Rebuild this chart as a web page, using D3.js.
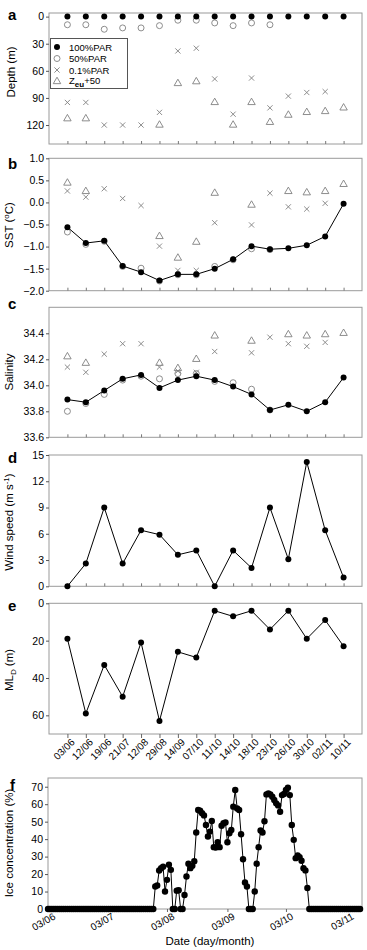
<!DOCTYPE html>
<html><head><meta charset="utf-8">
<script src="https://cdn.jsdelivr.net/npm/d3@7"></script>
<style>
body{margin:0;background:#fff;}
svg{display:block;font-family:"Liberation Sans",Arial,sans-serif;}
</style></head><body>
<svg id="c" width="367" height="950"></svg>
<script>
// ---------- DATA ----------
const stations = ["03/06","12/06","19/06","21/07","12/08","29/08","14/09","07/10","11/10","14/10","18/10","23/10","26/10","30/10","02/11","10/11"];
// a: depth (m)
const depth100 = [0,0,0,0,0,0,0,0,0,0,0,0,0,0,0,0];
const depth50  = [9,9,14,12.5,12.5,10,4,4,7,10,7,9,null,null,null,null];
const depth01  = [95,95,120,120,120,106,38,35,69,108,68,101,88,84,83,null];
const depthZeu = [113,113,null,null,null,120,74,72,95,120,95,117,109,106,105,101];
// b: SST
const sst100 = [-0.56,-0.92,-0.87,-1.44,-1.58,-1.77,-1.63,-1.63,-1.50,-1.29,-0.99,-1.06,-1.04,-0.97,-0.77,-0.03];
const sst50  = [-0.67,-0.95,-0.88,-1.45,-1.49,-1.78,-1.64,-1.64,-1.45,-1.30,-1.05,-1.07,null,null,null,null];
const sst01  = [0.26,0.12,0.31,0.09,-0.07,-0.99,-1.54,-1.54,-0.46,null,-0.51,0.21,-0.10,-0.15,-0.02,null];
const sstZeu = [0.44,0.25,null,null,null,-0.77,-1.26,-0.90,0.21,null,-0.06,null,0.25,0.22,0.25,0.41];
// c: salinity
const sal100 = [33.89,33.87,33.96,34.05,34.08,33.98,34.04,34.07,34.04,33.99,33.93,33.81,33.85,33.80,33.87,34.06];
const sal50  = [33.80,33.86,33.93,34.04,34.07,34.05,34.09,34.09,34.03,34.02,33.97,33.81,null,null,null,null];
const sal01  = [34.14,34.10,34.24,34.32,34.32,34.14,34.11,34.10,34.26,null,34.25,34.37,34.32,34.30,34.33,null];
const salZeu = [34.22,34.17,null,null,null,34.17,34.13,34.20,34.38,null,34.34,null,34.39,34.38,34.39,34.40];
// d: wind speed
const wind = [0,2.6,9.0,2.6,6.4,5.9,3.6,4.1,0,4.1,2.1,9.0,3.1,14.2,6.4,1.0];
// e: mixed layer depth
const mld = [19,59,33,50,21,63,26,29,4,7,4,14,4,19,9,23];
// f: daily ice concentration (%) from 03/06
const iceStart = "2012-06-03";
const iceEnd = "2012-11-11";
const iceConc = [
0,0,0,0,0,0,0,0,0,0,0,0,0,0,0,0,0,0,0,0,0,0,0,0,0,0,0,0,0,0,
0,0,0,0,0,0,0,0,0,0,0,0,0,0,0,0,0,0,0,0,0,0,0,0,0,
12.9,13.5,22,23.4,24.2,10,16.7,25.3,22.4,0,0,10.5,10.7,0,0,8,18.6,25.9,23.4,24.7,
27.4,43.8,56.7,56.3,54.8,53.6,48.1,41.5,44.3,50.4,35.4,35.2,38.2,35.4,47.7,49.1,49.5,38.2,43.4,45.3,
58.6,68.1,57.6,56.7,42.8,28.5,15.2,12.9,0,0,0,10,25.9,35.4,44.9,43.8,50.2,65.6,66.2,65.6,
64.3,62.4,60.5,59.3,55.7,65.2,65.8,68.1,69.4,65.2,48.1,39.6,29.1,30.6,29.7,27.6,23.4,22.1,12,
0,0,0,0,0,0,0,0,0,0,0,0,0,0,0,0,0,0,0,0,0,0,0,0,0,0,0
];
const iceTickLabels = ["03/06","03/07","03/08","03/09","03/10","03/11"];
const legendLabels = ["100%PAR","50%PAR","0.1%PAR","Zeu+50"];

// ---------- DRAW ----------
const svg = d3.select("#c");
const GREY = "#808080";
const FRAME = "#9a9a9a";
const x = d3.scalePoint().domain(stations).range([49, 362]).padding(1);

function frame(x0, x1, y0, y1) {
  svg.append("rect").attr("x", x0).attr("y", y0).attr("width", x1 - x0).attr("height", y1 - y0)
    .attr("fill", "none").attr("stroke", FRAME).attr("stroke-width", 1);
}
function yAxis(scale, ticks, fmt, xpos) {
  const g = svg.append("g").attr("transform", `translate(${xpos},0)`)
    .call(d3.axisLeft(scale).tickValues(ticks).tickFormat(fmt).tickSize(3).tickPadding(2));
  g.select(".domain").remove();
  g.selectAll(".tick line").attr("stroke", "#555");
  g.selectAll("text").attr("font-size", 10.5).attr("fill", "#000")
    .attr("font-family", "Liberation Sans, Arial, sans-serif");
  return g;
}
function xTicksInside(ybottom) {
  const g = svg.append("g").attr("transform", `translate(0,${ybottom})`)
    .call(d3.axisBottom(x).tickSize(-3).tickFormat(""));
  g.select(".domain").remove();
  g.selectAll(".tick line").attr("stroke", "#777");
}
function letter(t, xx, yy) {
  svg.append("text").attr("x", xx).attr("y", yy).text(t)
    .attr("font-size", 15).attr("font-weight", "bold");
}
function ytitle(cx, cy) {
  return svg.append("text").attr("transform", `translate(${cx},${cy}) rotate(-90)`)
    .attr("text-anchor", "middle").attr("font-size", 11.5);
}
function filled(vals, ys, r) {
  svg.append("g").selectAll("circle").data(vals.map((v, i) => [stations[i], v]).filter(d => d[1] != null))
    .join("circle").attr("cx", d => x(d[0])).attr("cy", d => ys(d[1])).attr("r", r || 3).attr("fill", "#000");
}
function openC(vals, ys) {
  svg.append("g").selectAll("circle").data(vals.map((v, i) => [stations[i], v]).filter(d => d[1] != null))
    .join("circle").attr("cx", d => x(d[0])).attr("cy", d => ys(d[1])).attr("r", 3)
    .attr("fill", "none").attr("stroke", GREY).attr("stroke-width", 0.9);
}
function crosses(vals, ys) {
  const s = 2.6;
  svg.append("g").selectAll("path").data(vals.map((v, i) => [stations[i], v]).filter(d => d[1] != null))
    .join("path").attr("d", d => {
      const cx = x(d[0]), cy = ys(d[1]);
      return `M${cx - s},${cy - s}L${cx + s},${cy + s}M${cx - s},${cy + s}L${cx + s},${cy - s}`;
    }).attr("stroke", GREY).attr("stroke-width", 0.9).attr("fill", "none");
}
const tri = d3.symbol().type(d3.symbolTriangle).size(24);
function triangles(vals, ys) {
  svg.append("g").selectAll("path").data(vals.map((v, i) => [stations[i], v]).filter(d => d[1] != null))
    .join("path").attr("d", tri).attr("transform", d => `translate(${x(d[0])},${ys(d[1])})`)
    .attr("fill", "none").attr("stroke", GREY).attr("stroke-width", 0.9);
}
function line(vals, ys) {
  svg.append("path").datum(vals.map((v, i) => [stations[i], v]))
    .attr("d", d3.line().x(d => x(d[0])).y(d => ys(d[1])))
    .attr("fill", "none").attr("stroke", "#000").attr("stroke-width", 1);
}

// ----- Panel a -----
const yA = d3.scaleLinear().domain([-4, 141]).range([13, 144]);
frame(49, 362, 13, 144);
xTicksInside(144);
yAxis(yA, [0, 30, 60, 90, 120], d3.format("d"), 49);
ytitle(15, 72).text("Depth (m)");
letter("a", 8, 20);
triangles(depthZeu, yA);
crosses(depth01, yA);
openC(depth50, yA);
filled(depth100, yA);
// legend
const lg = svg.append("g");
lg.append("rect").attr("x", 50.5).attr("y", 38.5).attr("width", 77).attr("height", 50)
  .attr("fill", "#fff").attr("stroke", "#555").attr("stroke-width", 1);
const ly = [47, 58.5, 70, 81.5];
lg.append("circle").attr("cx", 57).attr("cy", ly[0]).attr("r", 3).attr("fill", "#000");
lg.append("circle").attr("cx", 57).attr("cy", ly[1]).attr("r", 3).attr("fill", "none").attr("stroke", GREY).attr("stroke-width", 0.9);
lg.append("path").attr("d", `M54.4,${ly[2]-2.6}L59.6,${ly[2]+2.6}M54.4,${ly[2]+2.6}L59.6,${ly[2]-2.6}`).attr("stroke", GREY).attr("stroke-width", 0.9);
lg.append("path").attr("d", tri).attr("transform", `translate(57,${ly[3]})`).attr("fill", "none").attr("stroke", GREY).attr("stroke-width", 0.9);
legendLabels.slice(0, 3).forEach((t, i) => {
  lg.append("text").attr("x", 69).attr("y", ly[i] + 3.5).attr("font-size", 9.5).text(t);
});
const zt = lg.append("text").attr("x", 69).attr("y", ly[3] + 2.5).attr("font-size", 9.5);
zt.append("tspan").text("Z");
zt.append("tspan").attr("font-size", 8).attr("font-weight", "bold").attr("dy", 2.5).text("eu");
zt.append("tspan").attr("dy", -2.5).text("+50");

// ----- Panel b -----
const yB = d3.scaleLinear().domain([-2, 1]).range([290.7, 158.3]);
frame(49, 362, 158.3, 290.7);
xTicksInside(290.7);
yAxis(yB, [-2, -1.5, -1, -0.5, 0, 0.5, 1], d3.format(".1f"), 49);
const tb = ytitle(13, 225);
tb.append("tspan").text("SST (");
tb.append("tspan").attr("font-size", 8).attr("dy", -4).text("o");
tb.append("tspan").attr("dy", 4).text("C)");
letter("b", 8, 169);
triangles(sstZeu, yB);
crosses(sst01, yB);
openC(sst50, yB);
line(sst100, yB);
filled(sst100, yB);

// ----- Panel c -----
const yC = d3.scaleLinear().domain([33.6, 34.6]).range([437.3, 307.3]);
frame(49, 362, 307.3, 437.3);
xTicksInside(437.3);
yAxis(yC, [33.6, 33.8, 34.0, 34.2, 34.4], d3.format(".1f"), 49);
ytitle(13, 372).text("Salinity");
letter("c", 8, 309);
triangles(salZeu, yC);
crosses(sal01, yC);
openC(sal50, yC);
line(sal100, yC);
filled(sal100, yC);

// ----- Panel d -----
const yD = d3.scaleLinear().domain([0, 15]).range([586.3, 455]);
frame(49, 362, 455, 586.3);
xTicksInside(586.3);
yAxis(yD, [0, 3, 6, 9, 12, 15], d3.format("d"), 49);
const td = ytitle(13, 522);
td.append("tspan").text("Wind speed (m s");
td.append("tspan").attr("font-size", 8).attr("dy", -4).text("-1");
td.append("tspan").attr("dy", 4).text(")");
letter("d", 8, 463);
line(wind, yD);
filled(wind, yD);

// ----- Panel e -----
const yE = d3.scaleLinear().domain([0, 70]).range([603.3, 734]);
frame(49, 362, 603.3, 734);
yAxis(yE, [0, 20, 40, 60], d3.format("d"), 49);
const te = ytitle(13, 670);
te.append("tspan").text("ML");
te.append("tspan").attr("font-size", 8).attr("dy", 3).text("D");
te.append("tspan").attr("dy", -3).text(" (m)");
letter("e", 8, 611);
line(mld, yE);
filled(mld, yE);
const gx = svg.append("g").attr("transform", "translate(0,734)")
  .call(d3.axisBottom(x).tickSize(4).tickPadding(2));
gx.select(".domain").remove();
gx.selectAll(".tick line").attr("stroke", "#666");
gx.selectAll("text").attr("font-size", 10).attr("fill", "#000")
  .attr("font-family", "Liberation Sans, Arial, sans-serif")
  .attr("text-anchor", "end").attr("transform", "rotate(-45)").attr("dx", "-0.1em").attr("dy", "0.55em");

// ----- Panel f -----
const parse = d3.timeParse("%Y-%m-%d");
const t0 = parse(iceStart);
const xF = d3.scaleTime().domain([t0, parse(iceEnd)]).range([48, 362]);
const yF = d3.scaleLinear().domain([0, 75]).range([909, 778]);
const iceData = iceConc.map((v, i) => [d3.timeDay.offset(t0, i), v]);
frame(48, 362, 778, 909);
yAxis(yF, [0, 10, 20, 30, 40, 50, 60, 70], d3.format("d"), 48);
ytitle(13, 843).text("Ice concentration (%)");
letter("f", 10, 790);
const iceTicks = iceTickLabels.map(s => d3.timeParse("%d/%m/%Y")(s + "/2012"));
const gf = svg.append("g").attr("transform", "translate(0,909)")
  .call(d3.axisBottom(xF).tickValues(iceTicks).tickFormat(d3.timeFormat("%d/%m")).tickSize(3).tickPadding(3));
gf.select(".domain").remove();
gf.selectAll(".tick line").attr("stroke", "#666");
gf.selectAll("text").attr("font-size", 10).attr("fill", "#000")
  .attr("font-family", "Liberation Sans, Arial, sans-serif")
  .attr("text-anchor", "end").attr("transform", "rotate(-30)").attr("dx", "0.2em").attr("dy", "0.6em");
svg.append("text").attr("x", 210).attr("y", 945).attr("text-anchor", "middle").attr("font-size", 11.5).text("Date (day/month)");
svg.append("path").datum(iceData)
  .attr("d", d3.line().x(d => xF(d[0])).y(d => yF(d[1])))
  .attr("fill", "none").attr("stroke", "#000").attr("stroke-width", 1);
svg.append("g").selectAll("circle").data(iceData).join("circle")
  .attr("cx", d => xF(d[0])).attr("cy", d => yF(d[1])).attr("r", 3.2).attr("fill", "#000");
</script>
</body></html>
